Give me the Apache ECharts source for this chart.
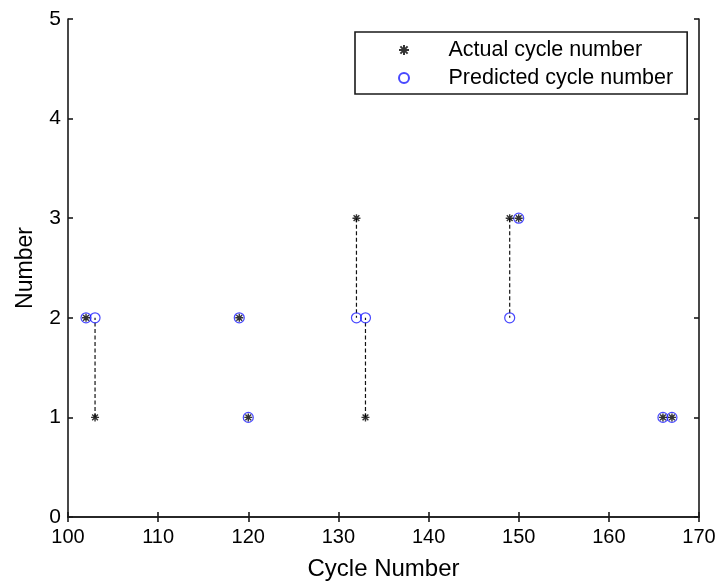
<!DOCTYPE html>
<html>
<head>
<meta charset="utf-8">
<script src="https://cdn.jsdelivr.net/npm/echarts@6/dist/echarts.min.js"></script>
<style>
  html, body { margin: 0; padding: 0; background: #fff; }
  #chart { width: 719px; height: 583px; }
</style>
</head>
<body>
<div id="chart"></div>
<script>
// Cycle positions and the per-cycle counts
const cycles = [102, 103, 119, 120, 132, 133, 149, 150, 166, 167];
const actualCounts = [2, 1, 2, 1, 3, 1, 3, 3, 1, 1];
const predictedCounts = [2, 2, 2, 1, 2, 2, 2, 3, 1, 1];
const xTicks = [100, 110, 120, 130, 140, 150, 160, 170];
const yTicks = [0, 1, 2, 3, 4, 5];

const FONT = 'Liberation Sans, Arial, sans-serif';
const INK = '#1a1a1a';
const asterisk = 'path://M0,-5L0,5M-5,0L5,0M-3.6,-3.6L3.6,3.6M-3.6,3.6L3.6,-3.6';

const actualData = cycles.map((c, i) => [c, actualCounts[i]]);
const predictedData = cycles.map((c, i) => [c, predictedCounts[i]]);

// Dashed connectors wherever the prediction misses the actual value
const connectors = [];
cycles.forEach((c, i) => {
  if (actualCounts[i] !== predictedCounts[i]) {
    connectors.push({
      type: 'line',
      name: 'err' + i,
      data: [[c, actualCounts[i]], [c, predictedCounts[i]]],
      symbol: 'none',
      silent: true,
      z: 1,
      lineStyle: { color: '#111', width: 1.2, type: [4, 2.5] }
    });
  }
});

const baseAxisLine = { show: true, lineStyle: { color: INK, width: 1.6 } };
const baseTick = { show: true, inside: true, length: 5, lineStyle: { color: INK, width: 1.6 } };

const chart = echarts.init(document.getElementById('chart'));
chart.setOption({
  animation: false,
  backgroundColor: '#fff',
  grid: { left: 68, right: 20, top: 19, bottom: 66, outerBoundsMode: 'none', containLabel: false },
  legend: {
    data: ['Actual cycle number', 'Predicted cycle number'],
    orient: 'vertical',
    left: 355,
    top: 32,
    padding: [7, 14, 5, 43],
    itemWidth: 51,
    itemHeight: 10,
    itemGap: 6,
    borderColor: INK,
    borderWidth: 1.6,
    backgroundColor: '#fff',
    textStyle: { fontFamily: FONT, fontSize: 21.5, color: '#000', padding: [0, 0, 0, 14] }
  },
  xAxis: [
    {
      type: 'value', min: 100, max: 170, interval: 10, position: 'bottom',
      name: 'Cycle Number', nameLocation: 'middle', nameGap: 40,
      nameTextStyle: { fontFamily: FONT, fontSize: 24, color: '#000' },
      axisLine: baseAxisLine, axisTick: baseTick,
      axisLabel: {
        fontFamily: FONT, fontSize: 20, color: '#000', margin: 10,
        formatter: v => (xTicks.includes(v) ? String(v) : '')
      },
      splitLine: { show: false }
    },
    {
      type: 'value', min: 100, max: 170, interval: 10, position: 'top',
      axisLine: baseAxisLine, axisTick: baseTick,
      axisLabel: { show: false }, splitLine: { show: false }
    }
  ],
  yAxis: [
    {
      type: 'value', min: 0, max: 5, interval: 1, position: 'left',
      name: 'Number', nameLocation: 'middle', nameGap: 31,
      nameTextStyle: { fontFamily: FONT, fontSize: 23, color: '#000' },
      axisLine: baseAxisLine, axisTick: baseTick,
      axisLabel: {
        fontFamily: FONT, fontSize: 21, color: '#000', margin: 7,
        formatter: v => (yTicks.includes(v) ? String(v) : '')
      },
      splitLine: { show: false }
    },
    {
      type: 'value', min: 0, max: 5, interval: 1, position: 'right',
      axisLine: baseAxisLine, axisTick: baseTick,
      axisLabel: { show: false }, splitLine: { show: false }
    }
  ],
  series: [
    ...connectors,
    {
      type: 'scatter',
      name: 'Actual cycle number',
      data: actualData,
      symbol: asterisk,
      symbolSize: 8,
      z: 3,
      itemStyle: { color: '#000', borderColor: '#000', borderWidth: 1.4 }
    },
    {
      type: 'scatter',
      name: 'Predicted cycle number',
      data: predictedData,
      symbol: 'circle',
      symbolSize: 10,
      z: 2,
      itemStyle: { color: 'rgba(0,0,0,0)', borderColor: '#1a1aff', borderWidth: 1.2 }
    }
  ]
});
</script>
</body>
</html>
